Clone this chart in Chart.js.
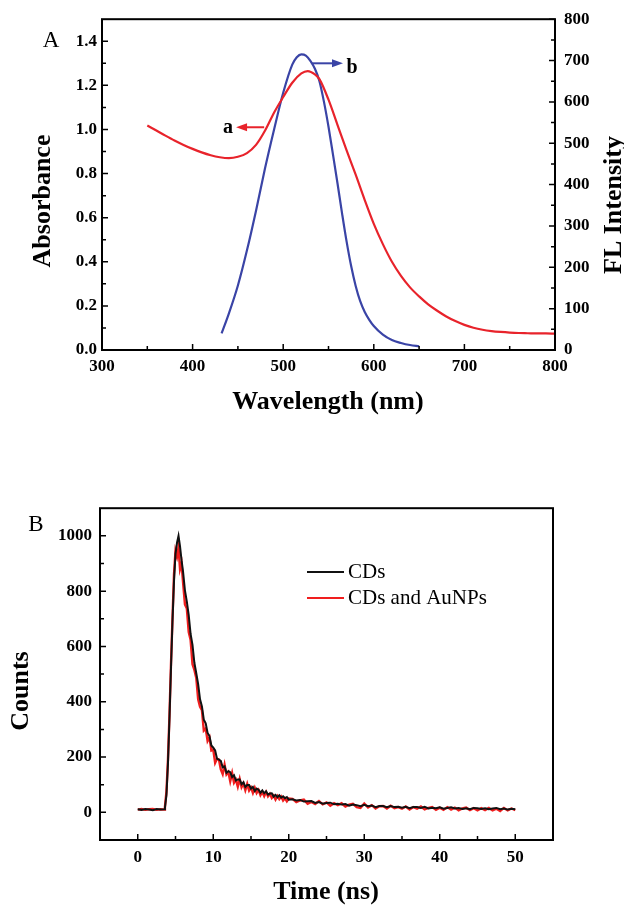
<!DOCTYPE html>
<html>
<head>
<meta charset="utf-8">
<script src="https://cdn.jsdelivr.net/npm/chart.js@4.4.1/dist/chart.umd.min.js"></script>
<style>
  body { margin: 0; background: #fff; }
  canvas { position: absolute; left: 0; }
  #chartA { top: 0; }
  #chartB { top: 490px; }
</style>
</head>
<body>
<canvas id="chartA" width="624" height="420"></canvas>
<canvas id="chartB" width="624" height="415"></canvas>
<script>
// ---- panel A: absorbance (a) and FL spectrum (b) ----
const absWl = [350, 360, 370, 380, 390, 400, 410, 420, 430, 440, 450, 460, 470, 480, 490, 500,
  510, 520, 527, 535, 540, 550, 560, 570, 580, 590, 600, 610, 620, 630, 640, 650, 660, 670,
  680, 690, 700, 710, 720, 730, 740, 750, 760, 770, 780, 790, 800];
const absVal = [1.018, 0.995, 0.972, 0.950, 0.930, 0.912, 0.896, 0.883, 0.874, 0.870, 0.876,
  0.893, 0.930, 0.995, 1.077, 1.147, 1.212, 1.254, 1.265, 1.250, 1.228, 1.135, 1.020, 0.905,
  0.795, 0.680, 0.572, 0.480, 0.400, 0.336, 0.284, 0.243, 0.207, 0.178, 0.152, 0.131, 0.114,
  0.101, 0.092, 0.086, 0.082, 0.079, 0.077, 0.076, 0.075, 0.075, 0.074];

const flWl = [432, 440, 450, 460, 470, 480, 490, 500, 510, 515, 520, 525, 530, 535, 540, 545,
  550, 555, 560, 565, 570, 575, 580, 585, 590, 595, 600, 610, 620, 630, 640, 650];
const flVal = [40, 88, 156, 241, 337, 440, 534, 622, 690, 708, 715, 712, 699, 680, 650, 600,
  540, 472, 402, 330, 262, 203, 155, 118, 92, 73, 58, 37, 24, 17, 12, 9];

const wlTicks = [300, 400, 500, 600, 700, 800];
const wlMinor = [350, 450, 550, 650, 750];
const absTicks = [0, 0.2, 0.4, 0.6, 0.8, 1.0, 1.2, 1.4];
const absMinor = [0.1, 0.3, 0.5, 0.7, 0.9, 1.1, 1.3];
const flTicks = [0, 100, 200, 300, 400, 500, 600, 700, 800];
const flMinor = [50, 150, 250, 350, 450, 550, 650, 750];

// ---- panel B: fluorescence decay ----
const decayTime = [0, 0.5, 1, 1.5, 2, 2.5, 3, 3.5,
  3.6, 3.8, 4.0, 4.2, 4.4, 4.6, 4.8, 5.0, 5.2, 5.4, 5.6, 5.8,
  6.0, 6.25, 6.5, 6.75, 7.0, 7.25, 7.5, 7.75, 8.0, 8.25, 8.5, 8.75, 9.0, 9.25, 9.5, 9.75,
  10.0, 10.25, 10.5, 10.75, 11.0, 11.25, 11.5, 11.75, 12.0, 12.25, 12.5, 12.75, 13.0, 13.25,
  13.5, 13.75, 14.0, 14.25, 14.5, 14.75, 15.0, 15.25, 15.5, 15.75, 16.0, 16.25, 16.5, 16.75,
  17.0, 17.25, 17.5, 17.75, 18.0, 18.25, 18.5, 18.75, 19.0, 19.25, 19.5, 19.75, 20.0,
  20.5, 21, 21.5, 22, 22.5, 23, 23.5, 24, 24.5, 25,
  25.5, 26, 26.5, 27, 27.5, 28, 28.5, 29, 29.5, 30,
  30.5, 31, 31.5, 32, 32.5, 33, 33.5, 34, 34.5, 35,
  35.5, 36, 36.5, 37, 37.5, 38, 38.5, 39, 39.5, 40,
  40.5, 41, 41.5, 42, 42.5, 43, 43.5, 44, 44.5, 45,
  45.5, 46, 46.5, 47, 47.5, 48, 48.5, 49, 49.5, 50];
const cdsCounts = [11, 9, 12, 10, 8, 12, 10, 11,
  16, 62, 175, 338, 520, 690, 835, 935, 975, 1000, 962, 912,
  871, 803, 762, 713, 645, 606, 541, 503, 464, 409, 383, 335, 322, 287, 276, 242,
  234, 224, 194, 191, 186, 163, 166, 143, 149, 145, 128, 134, 115, 119,
  119, 102, 109, 92, 99, 99, 86, 92, 77, 86, 82, 71, 79, 69,
  76, 64, 68, 69, 57, 63, 55, 62, 53, 58, 51, 55, 46,
  47, 43, 45, 39, 40, 41, 34, 37, 31, 34,
  35, 29, 31, 28, 30, 24, 28, 26, 22, 27,
  22, 25, 19, 23, 23, 19, 23, 19, 20, 17,
  20, 15, 19, 19, 16, 20, 14, 17, 15, 18,
  13, 16, 18, 14, 16, 12, 15, 11, 16, 15,
  12, 15, 11, 14, 16, 11, 14, 10, 13, 11];
const cdsAuCounts = [10, 12, 9, 11, 12, 9, 11, 10,
  20, 75, 190, 350, 535, 700, 860, 945, 925, 958, 880, 900,
  832, 752, 737, 652, 623, 536, 515, 486, 409, 382, 370, 296, 303, 258, 271, 224,
  227, 179, 194, 191, 155, 138, 172, 137, 146, 112, 142, 107, 118, 93,
  121, 91, 105, 80, 103, 79, 90, 70, 89, 70, 81, 62, 74, 59,
  74, 58, 67, 52, 61, 46, 59, 48, 57, 43, 51, 40, 50,
  49, 37, 43, 46, 31, 38, 30, 41, 29, 36,
  24, 33, 26, 33, 21, 28, 31, 19, 16, 32,
  18, 26, 14, 22, 23, 14, 24, 15, 19, 13,
  21, 10, 19, 13, 21, 11, 16, 19, 9, 17,
  9, 19, 10, 17, 7, 14, 17, 8, 15, 7,
  15, 8, 16, 7, 13, 5, 16, 7, 14, 8];
const seriesNames = ['CDs', 'CDs and AuNPs'];

const timeTicks = [0, 10, 20, 30, 40, 50];
const timeMinor = [5, 15, 25, 35, 45];
const countTicks = [0, 200, 400, 600, 800, 1000];
const countMinor = [100, 300, 500, 700, 900];

const SERIF = "'Liberation Serif', 'Times New Roman', serif";
const TICK_FONT = { family: SERIF, size: 17, weight: 'bold' };
Chart.defaults.color = '#000';
Chart.defaults.font.family = SERIF;

function toPoints(xs, ys) {
  return xs.map((x, i) => ({ x: x, y: ys[i] }));
}

// inward tick marks
function tickMarks(ctx, scale, values, len, side, area) {
  ctx.beginPath();
  values.forEach(v => {
    const p = scale.getPixelForValue(v);
    if (side === 'bottom') { ctx.moveTo(p, area.bottom); ctx.lineTo(p, area.bottom - len); }
    if (side === 'left') { ctx.moveTo(area.left, p); ctx.lineTo(area.left + len, p); }
    if (side === 'right') { ctx.moveTo(area.right, p); ctx.lineTo(area.right - len, p); }
  });
  ctx.stroke();
}

function frame(ctx, a) {
  ctx.strokeStyle = '#000';
  ctx.lineWidth = 2;
  ctx.strokeRect(a.left, a.top, a.right - a.left, a.bottom - a.top);
  ctx.lineWidth = 1.5;
}

function vText(ctx, text, x, y) {
  ctx.save();
  ctx.translate(x, y);
  ctx.rotate(-Math.PI / 2);
  ctx.fillText(text, 0, 0);
  ctx.restore();
}

function arrow(ctx, x1, x2, y, color) {
  const dir = Math.sign(x2 - x1);
  ctx.strokeStyle = color;
  ctx.fillStyle = color;
  ctx.lineWidth = 2;
  ctx.beginPath();
  ctx.moveTo(x1, y);
  ctx.lineTo(x2 - dir * 8, y);
  ctx.stroke();
  ctx.beginPath();
  ctx.moveTo(x2, y);
  ctx.lineTo(x2 - dir * 11, y - 4);
  ctx.lineTo(x2 - dir * 11, y + 4);
  ctx.closePath();
  ctx.fill();
}

const RED = '#e8232b';
const BLUE = '#3a44a6';

const decorA = {
  id: 'decorA',
  afterDraw(chart) {
    const { ctx, chartArea: a, scales } = chart;
    ctx.save();
    frame(ctx, a);
    tickMarks(ctx, scales.x, wlTicks, 6, 'bottom', a);
    tickMarks(ctx, scales.x, wlMinor, 4, 'bottom', a);
    tickMarks(ctx, scales.y, absTicks, 6, 'left', a);
    tickMarks(ctx, scales.y, absMinor, 4, 'left', a);
    tickMarks(ctx, scales.y1, flTicks, 6, 'right', a);
    tickMarks(ctx, scales.y1, flMinor, 4, 'right', a);

    // curve labels with arrows (placed in data units)
    const ya = scales.y.getPixelForValue(1.01);
    arrow(ctx, scales.x.getPixelForValue(479), scales.x.getPixelForValue(448), ya, RED);
    const yb = scales.y.getPixelForValue(1.30);
    arrow(ctx, scales.x.getPixelForValue(532), scales.x.getPixelForValue(566), yb, BLUE);
    ctx.fillStyle = '#000';
    ctx.font = 'bold 20px ' + SERIF;
    ctx.textAlign = 'center';
    ctx.textBaseline = 'middle';
    ctx.fillText('a', scales.x.getPixelForValue(439), ya + 1);
    ctx.fillText('b', scales.x.getPixelForValue(576), yb + 5);

    ctx.font = '23px ' + SERIF;
    ctx.fillText('A', 51, 41);
    ctx.font = 'bold 26px ' + SERIF;
    ctx.fillText('Wavelength (nm)', 328, 402);
    vText(ctx, 'Absorbance', 43, 201);
    vText(ctx, 'FL Intensity', 614, 205);
    ctx.restore();
  }
};

const decorB = {
  id: 'decorB',
  afterDraw(chart) {
    const { ctx, chartArea: a, scales } = chart;
    ctx.save();
    frame(ctx, a);
    tickMarks(ctx, scales.x, timeTicks, 6, 'bottom', a);
    tickMarks(ctx, scales.x, timeMinor, 4, 'bottom', a);
    tickMarks(ctx, scales.y, countTicks, 6, 'left', a);
    tickMarks(ctx, scales.y, countMinor, 4, 'left', a);

    // legend
    ctx.textAlign = 'left';
    ctx.textBaseline = 'middle';
    ctx.font = '21px ' + SERIF;
    chart.data.datasets.forEach((ds, i) => {
      const y = 82 + i * 26;
      ctx.strokeStyle = ds.borderColor;
      ctx.lineWidth = 2;
      ctx.beginPath();
      ctx.moveTo(307, y);
      ctx.lineTo(344, y);
      ctx.stroke();
      ctx.fillStyle = '#000';
      ctx.fillText(ds.label, 348, y);
    });

    ctx.textAlign = 'center';
    ctx.font = '23px ' + SERIF;
    ctx.fillText('B', 36, 35);
    ctx.font = 'bold 26px ' + SERIF;
    ctx.fillText('Time (ns)', 326, 402);
    vText(ctx, 'Counts', 21, 201);
    ctx.restore();
  }
};

function axis(opts) {
  return Object.assign({
    type: 'linear',
    grid: { display: false, drawTicks: false },
    border: { display: false },
  }, opts);
}

new Chart(document.getElementById('chartA'), {
  type: 'line',
  data: {
    datasets: [
      {
        label: 'a',
        data: toPoints(absWl, absVal),
        yAxisID: 'y',
        borderColor: RED,
        borderWidth: 2.2,
        pointRadius: 0,
        cubicInterpolationMode: 'monotone',
      },
      {
        label: 'b',
        data: toPoints(flWl, flVal),
        yAxisID: 'y1',
        borderColor: BLUE,
        borderWidth: 2.2,
        pointRadius: 0,
        cubicInterpolationMode: 'monotone',
      },
    ],
  },
  options: {
    responsive: false,
    animation: false,
    layout: { padding: { top: 17, left: 0, right: 0, bottom: 0 } },
    plugins: { legend: { display: false }, tooltip: { enabled: false } },
    scales: {
      x: axis({
        min: 300, max: 800,
        ticks: { font: TICK_FONT, padding: 6, maxRotation: 0, autoSkip: false, callback: v => String(v) },
        afterBuildTicks: s => { s.ticks = wlTicks.map(v => ({ value: v })); },
        afterFit: s => { s.height = 70; },
      }),
      y: axis({
        position: 'left',
        min: 0, max: 1.5,
        ticks: { font: TICK_FONT, padding: 5, autoSkip: false, callback: v => Number(v).toFixed(1) },
        afterBuildTicks: s => { s.ticks = absTicks.map(v => ({ value: v })); },
        afterFit: s => { s.width = 102; },
      }),
      y1: axis({
        position: 'right',
        min: 0, max: 800,
        ticks: { font: TICK_FONT, padding: 9, autoSkip: false, callback: v => String(v) },
        afterBuildTicks: s => { s.ticks = flTicks.map(v => ({ value: v })); },
        afterFit: s => { s.width = 69; },
      }),
    },
  },
  plugins: [decorA],
});

new Chart(document.getElementById('chartB'), {
  type: 'line',
  data: {
    datasets: [
      {
        label: seriesNames[0],
        data: toPoints(decayTime, cdsCounts),
        borderColor: '#111111',
        borderWidth: 2,
        pointRadius: 0,
        tension: 0,
      },
      {
        label: seriesNames[1],
        data: toPoints(decayTime, cdsAuCounts),
        borderColor: '#f01e1e',
        borderWidth: 2.4,
        pointRadius: 0,
        tension: 0,
      },
    ],
  },
  options: {
    responsive: false,
    animation: false,
    layout: { padding: { top: 17, left: 0, right: 71, bottom: 0 } },
    plugins: { legend: { display: false }, tooltip: { enabled: false } },
    scales: {
      x: axis({
        min: -5, max: 55,
        ticks: { font: TICK_FONT, padding: 7, maxRotation: 0, autoSkip: false, callback: v => String(v) },
        afterBuildTicks: s => { s.ticks = timeTicks.map(v => ({ value: v })); },
        afterFit: s => { s.height = 65; },
      }),
      y: axis({
        min: -100, max: 1100,
        ticks: { font: TICK_FONT, padding: 8, autoSkip: false, callback: v => String(v) },
        afterBuildTicks: s => { s.ticks = countTicks.map(v => ({ value: v })); },
        afterFit: s => { s.width = 100; },
      }),
    },
  },
  plugins: [decorB],
});
</script>
</body>
</html>
